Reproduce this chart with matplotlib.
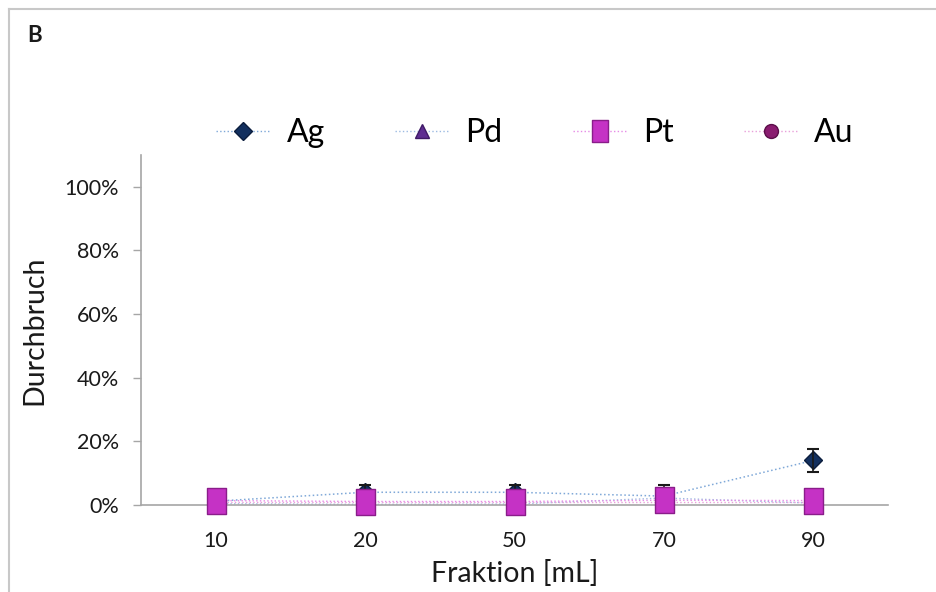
import numpy as np
import matplotlib
matplotlib.use("Agg")
import matplotlib.pyplot as plt
from matplotlib.lines import Line2D
from matplotlib.path import Path

plt.rcParams['font.family'] = ['Lato', 'DejaVu Sans']

fractions = ['10', '20', '50', '70', '90']
ag = [0.012, 0.040, 0.040, 0.028, 0.140]
ag_err = [0.0, 0.024, 0.024, 0.034, 0.036]
pd_ = [0.004, 0.002, 0.003, 0.022, 0.006]
pt = [0.014, 0.011, 0.011, 0.015, 0.014]
au = [0.008, 0.008, 0.008, 0.008, 0.008]

yticks = [0, 0.2, 0.4, 0.6, 0.8, 1.0]
ytick_labels = ['0%', '20%', '40%', '60%', '80%', '100%']

fig = plt.figure(figsize=(9.36, 5.92), dpi=100)
ax = fig.add_axes([141 / 936, 87 / 592, 747 / 936, 350 / 592])

x = np.arange(len(fractions))

# tall rectangle for the Pt marker (excel pyramid look, roughly)
tall_rect = Path([(-0.36, -0.5), (0.36, -0.5), (0.36, 0.5), (-0.36, 0.5), (-0.36, -0.5)],
                 [Path.MOVETO, Path.LINETO, Path.LINETO, Path.LINETO, Path.CLOSEPOLY])

styles = {
    'Ag': dict(marker='D', ms=9, mfc='#13305f', mec='#0b1d3d', color='#7fa8d8'),
    'Pd': dict(marker='^', ms=10, mfc='#5e2d91', mec='#3f1a66', color='#9dbbe2'),
    'Pt': dict(marker=tall_rect, ms=19, mfc='#c532c5', mec='#8a1d8a', color='#e68be6'),
    'Au': dict(marker='o', ms=10, mfc='#8a1c70', mec='#5c0f4a', color='#e9a0da'),
}

ax.errorbar(x, ag, yerr=ag_err, fmt='none', ecolor='#1a1a1a', elinewidth=1.2,
            capsize=4.5, capthick=1.5, zorder=3)
ax.plot(x, ag, ls=':', lw=1.1, zorder=2, clip_on=False, **styles['Ag'])
ax.plot(x, pd_, ls=':', lw=1, zorder=2, clip_on=False, **styles['Pd'])
ax.plot(x, au, ls=':', lw=1, zorder=2, clip_on=False, **styles['Au'])
ax.plot(x, pt, ls=':', lw=1, zorder=4, clip_on=False, **styles['Pt'])

ax.set_xlim(-0.5, len(fractions) - 0.5)
ax.set_ylim(0, 1.1)
ax.set_xticks(x)
ax.set_xticklabels(fractions)
ax.set_yticks(yticks)
ax.set_yticklabels(ytick_labels)
ax.tick_params(axis='both', labelsize=15.5, color='#a6a6a6', length=6, width=1,
               labelcolor='#1a1a1a')
ax.tick_params(axis='y', pad=10)
ax.tick_params(axis='x', direction='out', pad=14, length=5)

for s in ['top', 'right']:
    ax.spines[s].set_visible(False)
for s in ['left', 'bottom']:
    ax.spines[s].set_color('#a6a6a6')
    ax.spines[s].set_linewidth(1.2)
# end tick at right of x axis
ax.plot([1, 1], [-0.02, 0.02], transform=ax.get_xaxis_transform(),
        color='#a6a6a6', lw=1.2, clip_on=False)

ax.set_xlabel('Fraktion [mL]', fontsize=20.5, color='#1a1a1a', labelpad=6)
ax.set_ylabel('Durchbruch', fontsize=20.5, color='#1a1a1a', labelpad=12)

handles = [Line2D([], [], ls=':', lw=1, **styles[k]) for k in ['Ag', 'Pd', 'Pt', 'Au']]
handles[2].set_markersize(16)
fig.legend(handles, ['Ag', 'Pd', 'Pt', 'Au'], loc='center', ncol=4,
           bbox_to_anchor=(535 / 936, 1 - 133 / 592), frameon=False,
           fontsize=23, handlelength=1.7, columnspacing=2.2, handletextpad=0.5,
           borderpad=0, borderaxespad=0)

fig.text(27 / 936, 1 - 35 / 592, 'B', fontsize=16, fontweight='bold',
         ha='left', va='center', color='#1a1a1a')

# outer frame (left and top edges visible)
fig.add_artist(Line2D([8.5 / 936, 8.5 / 936], [0, 1 - 8.5 / 592], color='#c8c8c8', lw=1.5))
fig.add_artist(Line2D([8.5 / 936, 1], [1 - 8.5 / 592, 1 - 8.5 / 592], color='#c8c8c8', lw=1.5))

fig.savefig('out.png', dpi=100)
